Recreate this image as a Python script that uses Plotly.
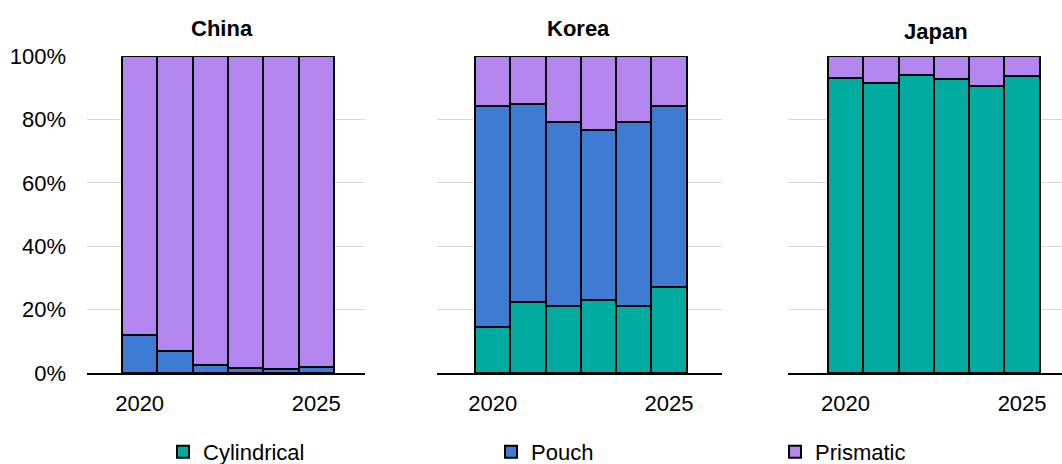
import plotly.graph_objects as go

years = [2020, 2021, 2022, 2023, 2024, 2025]
regions = ["China", "Korea", "Japan"]
series = ["Cylindrical", "Pouch", "Prismatic"]
tick_years = [2020, 2025]
tick_labels = ["2020", "2025"]
y_ticks = [0, 0.2, 0.4, 0.6, 0.8, 1.0]
y_tick_labels = ["0%", "20%", "40%", "60%", "80%", "100%"]

china_cylindrical = [0.0, 0.0, 0.0, 0.0, 0.0, 0.0]
china_pouch = [0.121, 0.068, 0.026, 0.016, 0.014, 0.020]
china_prismatic = [0.879, 0.932, 0.974, 0.984, 0.986, 0.980]

korea_cylindrical = [0.146, 0.225, 0.212, 0.230, 0.212, 0.270]
korea_pouch = [0.696, 0.624, 0.579, 0.537, 0.580, 0.572]
korea_prismatic = [0.158, 0.151, 0.209, 0.233, 0.208, 0.158]

japan_cylindrical = [0.932, 0.914, 0.940, 0.927, 0.905, 0.937]
japan_pouch = [0.0, 0.0, 0.0, 0.0, 0.0, 0.0]
japan_prismatic = [0.068, 0.086, 0.060, 0.073, 0.095, 0.063]

colors = {"Cylindrical": "#00ACA0", "Pouch": "#3E7BD3", "Prismatic": "#B286EE"}

data = {
    "China": {"Cylindrical": china_cylindrical, "Pouch": china_pouch, "Prismatic": china_prismatic},
    "Korea": {"Cylindrical": korea_cylindrical, "Pouch": korea_pouch, "Prismatic": korea_prismatic},
    "Japan": {"Cylindrical": japan_cylindrical, "Pouch": japan_pouch, "Prismatic": japan_prismatic},
}

W, H = 1062, 464
ML, MR, MT, MB = 87, 0, 56, 91
PW = W - ML - MR
PH = H - MT - MB

def px_x(p):
    return (p - ML) / PW

def px_y(p):
    return (H - MB - p) / PH

domains = [
    [px_x(87), px_x(365)],
    [px_x(437), px_x(722)],
    [px_x(788), 1.0],
]
xranges = [[2018.51, 2026.38], [2018.42, 2026.5], [2018.37, 2026.13]]
title_pos = [(221.5, 28), (578, 28), (936, 31)]

FONT = "Liberation Sans, Arial, sans-serif"
FS = 22
fig = go.Figure()

legend_names = {"Cylindrical": "legend", "Pouch": "legend2", "Prismatic": "legend3"}
for i, region in enumerate(regions):
    xa = "x" if i == 0 else f"x{i+1}"
    ya = "y" if i == 0 else f"y{i+1}"
    for s in series:
        fig.add_trace(go.Bar(
            x=years, y=data[region][s], name=s,
            xaxis=xa, yaxis=ya,
            marker=dict(color=colors[s], line=dict(color="black", width=2)),
            showlegend=(i == 0), legend=legend_names[s],
        ))

layout = dict(
    width=W, height=H,
    margin=dict(l=ML, r=MR, t=MT, b=MB, autoexpand=False),
    barmode="stack", bargap=0,
    plot_bgcolor="white", paper_bgcolor="white",
    font=dict(family=FONT, size=FS, color="black"),
)
for i in range(3):
    xk = "xaxis" if i == 0 else f"xaxis{i+1}"
    yk = "yaxis" if i == 0 else f"yaxis{i+1}"
    ya = "y" if i == 0 else f"y{i+1}"
    xa = "x" if i == 0 else f"x{i+1}"
    layout[xk] = dict(
        domain=domains[i], range=xranges[i], anchor=ya,
        tickmode="array", tickvals=tick_years, ticktext=tick_labels,
        showgrid=False, zeroline=False, showline=True, linecolor="black", linewidth=1.5,
        ticks="", ticklabelstandoff=10, tickfont=dict(size=FS, family=FONT),
    )
    layout[yk] = dict(
        domain=[0, 1], range=[0, 1], anchor=xa,
        tickmode="array", tickvals=y_ticks, ticktext=y_tick_labels,
        showticklabels=(i == 0), showgrid=True, gridcolor="#D9D9D9", gridwidth=1.2,
        zeroline=False, showline=False, ticks="", ticklabelstandoff=20,
        tickfont=dict(size=FS, family=FONT),
    )
fig.update_layout(**layout)

legend_left_px = [163, 491, 775]
for k, name in enumerate(["legend", "legend2", "legend3"]):
    fig.update_layout({name: dict(
        x=px_x(legend_left_px[k]), y=px_y(452), xanchor="left", yanchor="middle",
        orientation="h", font=dict(size=FS, family=FONT, color="black"),
        bgcolor="rgba(0,0,0,0)", itemwidth=30,
    )})

for region, (tx, ty) in zip(regions, title_pos):
    fig.add_annotation(
        text=f"<b>{region}</b>", x=px_x(tx), y=px_y(ty), xref="paper", yref="paper",
        xanchor="center", yanchor="middle", showarrow=False,
        font=dict(size=FS, family=FONT, color="black"),
    )

fig.write_html(
    "out.html",
    config={"displayModeBar": False},
    post_script="document.body.style.margin='0';document.body.style.overflow='hidden';",
)
